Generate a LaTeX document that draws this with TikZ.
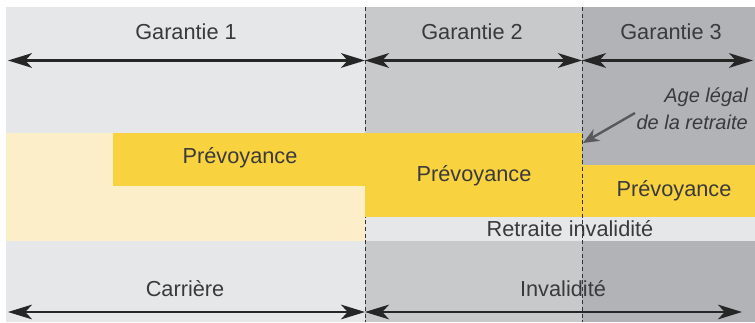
\documentclass[tikz,border=0pt]{standalone}
\usepackage{fontspec}
\setmainfont{Liberation Sans}
\usepackage{xcolor}
\usepackage{tikz}
\usetikzlibrary{positioning,calc,arrows.meta}

\definecolor{greylight}{HTML}{E6E7E8}
\definecolor{greymid}{HTML}{C8C9CB}
\definecolor{greydark}{HTML}{B2B3B6}
\definecolor{yellowlight}{HTML}{FBEEC8}
\definecolor{yellowfull}{HTML}{F9D23F}
\definecolor{inkgrey}{HTML}{3A3A3C}
\definecolor{pointergrey}{HTML}{58595B}

\begin{document}
\begin{tikzpicture}[x=0.75pt,y=0.75pt,
    span/.style={{Stealth[length=18pt,width=11pt,inset=5pt]}-{Stealth[length=18pt,width=11pt,inset=5pt]}, line width=1.6pt, draw=black!85},
    lbl/.style={anchor=base, inner sep=0pt, text=inkgrey, font=\fontsize{16.3}{19}\selectfont},
    note/.style={anchor=base east, inner sep=0pt, text=inkgrey, font=\fontsize{15}{18}\selectfont\itshape},
    limit/.style={line width=0.7pt, dash pattern=on 3pt off 2pt, draw=black!80}]
    \useasboundingbox (0,0) rectangle (755,323);

    % Bands
    \fill[greylight] (6,190) rectangle (365,316);
    \fill[greymid] (365,190) rectangle (582,316);
    \fill[greydark] (582,158) rectangle (755,316);
    \fill[yellowlight] (6,82) rectangle (365,190);
    \fill[greylight] (365,82) rectangle (755,106);
    \fill[greylight] (6,1) rectangle (365,82);
    \fill[greymid] (365,1) rectangle (582,82);
    \fill[greydark] (582,1) rectangle (755,82);

    % Limit 1
    \draw[limit] (365,316) -- (365,1);

    % Prevoyance blocks
    \fill[yellowfull] (113,137) rectangle (365,190);
    \fill[yellowfull] (365,106) rectangle (582,190);
    \fill[yellowfull] (582,106) rectangle (755,158);

    % Labels
    \node[lbl] (gar1) at (186,283) {Garantie 1};
    \node[lbl] (gar2) at (472,283) {Garantie 2};
    \node[lbl] (gar3) at (671,283) {Garantie 3};
    \node[lbl] (prev1) at (240,159) {Prévoyance};
    \node[lbl] (prev2) at (474,141) {Prévoyance};
    \node[lbl] (prev3) at (674,126) {Prévoyance};
    \node[lbl] (retinv) at (570,86) {Retraite invalidité};
    \node[lbl] (carr) at (185,26) {Carrière};
    \node[lbl] (inval) at (563,26) {Invalidité};
    \node[note] (age) at (748,220) {Age légal};
    \node[note] (ret) at (748,193) {de la retraite};

    % Limit 2
    \draw[limit] (582,316) -- (582,1);

    % Spans
    \coordinate (g1a) at (8,262.5);
    \coordinate (g1b) at (365,262.5);
    \coordinate (g2b) at (582,262.5);
    \coordinate (g3b) at (753,262.5);
    \coordinate (c1a) at (8,11);
    \coordinate (c1b) at (365,11);
    \coordinate (i1b) at (742,11);
    \draw[span] (g1a) -- (g1b);
    \draw[span] (g1b) -- (g2b);
    \draw[span] (g2b) -- (g3b);
    \draw[span] (c1a) -- (c1b);
    \draw[span] (c1b) -- (i1b);

    % Pointer
    \coordinate (agetip) at (583,180);
    \draw[-{Stealth[length=12pt,width=10pt]}, line width=1.8pt, draw=pointergrey] (635,210) -- (agetip);
\end{tikzpicture}
\end{document}
